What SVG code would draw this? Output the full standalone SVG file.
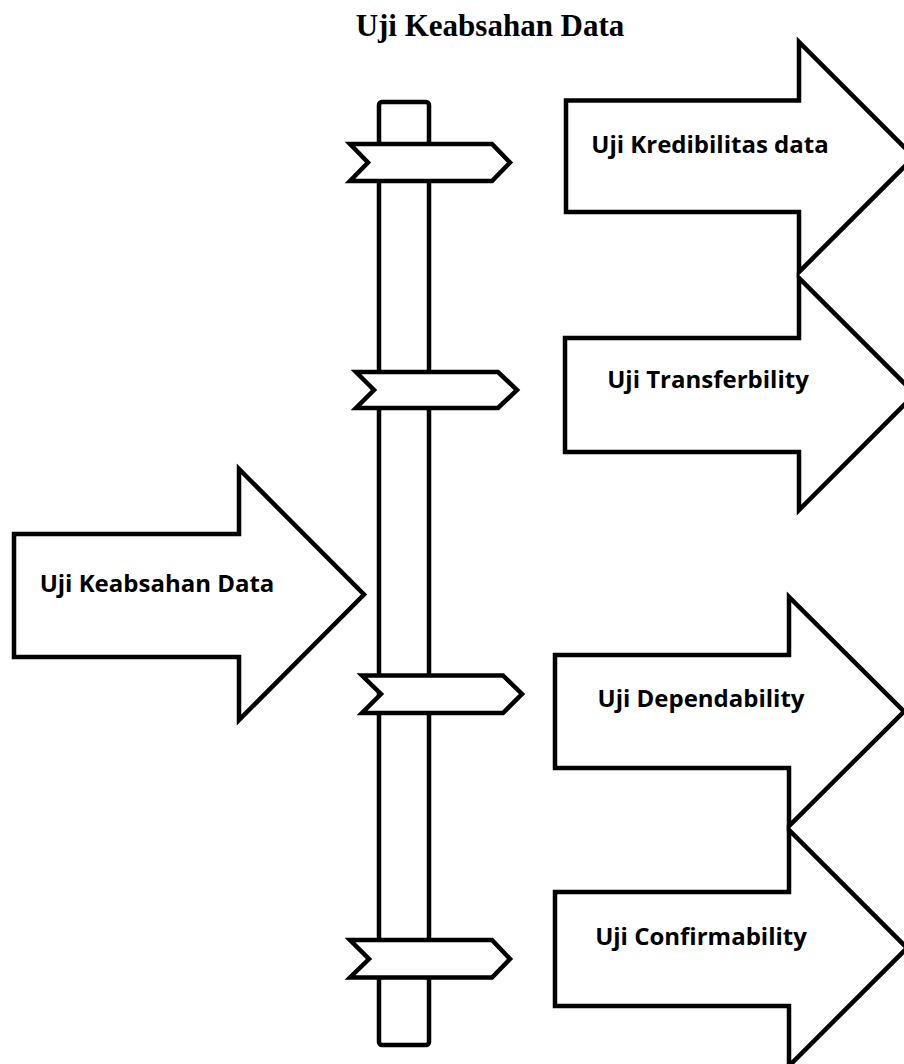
<svg xmlns="http://www.w3.org/2000/svg" width="904" height="1064" viewBox="0 0 904 1064">
  <style>
    .shape { fill: #ffffff; stroke: #000000; stroke-width: 4.5; stroke-linejoin: miter; stroke-miterlimit: 10; }
    .post { fill: #ffffff; stroke: #000000; stroke-width: 4.5; }
    .lbl { font-family: "Open Sans", "Noto Sans", sans-serif; font-weight: 700; font-size: 24px; fill: #000000; text-anchor: middle; }
    .title { font-family: "Liberation Serif", "Times New Roman", serif; font-weight: 700; font-size: 31px; fill: #000000; text-anchor: middle; }
  </style>
  <rect width="904" height="1064" fill="#ffffff"/>
  <text class="title" x="490" y="36">Uji Keabsahan Data</text>

  <g id="signpost">
    <rect class="post" x="379" y="102" width="50" height="943" rx="3"/>
    <polygon class="shape" points="350,144 492,144 510,162.5 492,181 350,181 368,162.5"/>
    <polygon class="shape" points="356,372 498,372 517,390 498,408 356,408 374,390"/>
    <polygon class="shape" points="362,675.5 503,675.5 522,694 503,713 362,713 381,694"/>
    <polygon class="shape" points="350,940 492,940 510,959 492,977.5 350,977.5 369,959"/>
  </g>

  <g id="node-keabsahan">
    <polygon class="shape" points="14,534 239,534 239,469 364,594.5 239,720 239,657 14,657"/>
    <text class="lbl" x="157" y="592">Uji Keabsahan Data</text>
  </g>

  <g id="node-kredibilitas">
    <polygon class="shape" points="566,100.5 799,100.5 799,42 914,157 799,272 799,212 566,212"/>
    <text class="lbl" x="710" y="153">Uji Kredibilitas data</text>
  </g>

  <g id="node-transferbility">
    <polygon class="shape" points="565,338 799,338 799,278 915,394 799,510 799,452 565,452"/>
    <text class="lbl" x="708" y="388">Uji Transferbility</text>
  </g>

  <g id="node-dependability">
    <polygon class="shape" points="555,655 789,655 789,597 904,711.5 789,826 789,768 555,768"/>
    <text class="lbl" x="701" y="707">Uji Dependability</text>
  </g>

  <g id="node-confirmability">
    <polygon class="shape" points="555,892 789,892 789,830 907,948 789,1066 789,1006 555,1006"/>
    <text class="lbl" x="701" y="945">Uji Confirmability</text>
  </g>

  <g id="connectors"></g>
</svg>
